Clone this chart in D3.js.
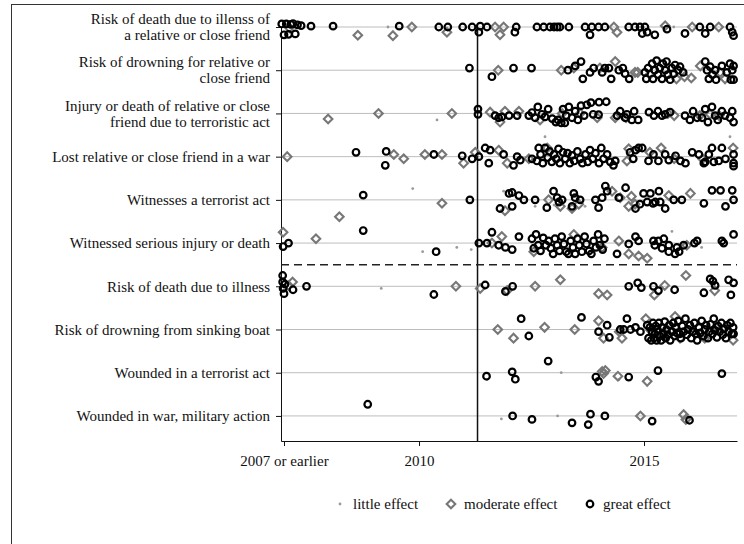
<!DOCTYPE html>
<html>
<head>
<meta charset="utf-8">
<script src="https://cdn.jsdelivr.net/npm/d3@7"></script>
<style>
  body { margin: 0; background: #fff; }
  text { font-family: "Liberation Serif", "Times New Roman", serif; fill: #111; }
</style>
</head>
<body>
<svg id="chart" width="744" height="544"></svg>
<script>
// category labels, top to bottom (row 1..10)
const categories = [
  ["Risk of death due to illenss of", "a relative or close friend"],
  ["Risk of drowning for relative or", "close friend"],
  ["Injury or death of relative or close", "friend due to terroristic act"],
  ["Lost relative or close friend in a war"],
  ["Witnesses a terrorist act"],
  ["Witnessed serious injury or death"],
  ["Risk of death due to illness"],
  ["Risk of drowning from sinking boat"],
  ["Wounded in a terrorist act"],
  ["Wounded in war, military action"]
];
const effects = ["little effect", "moderate effect", "great effect"];
const xTicks = [2007, 2010, 2015];
const xTickLabels = ["2007 or earlier", "2010", "2015"];
const markerYear = 2011.3;

// each point: [year, jitter (in rows), effect index]
const row1 = [[2006.95,-.07,2],[2007.0,.18,2],[2007.05,-.07,2],[2007.1,.17,2],[2007.15,-.06,2],[2007.2,-.08,2],[2007.25,.16,2],[2007.3,-.05,2],[2007.12,.02,1],[2007.38,-.03,2],[2007.6,-.02,2],[2008.09,-.02,2],[2008.64,.19,1],[2009.31,0,0],[2009.42,.2,1],[2009.56,-.02,2],[2009.84,0,1],[2010.44,0,2],[2010.64,0,2],[2010.62,.12,1],[2010.97,0,2],[2011.18,0,2],[2011.36,-.02,2],[2011.51,0,2],[2011.33,.12,2],[2011.69,0,1],[2011.8,.18,1],[2011.88,0,1],[2012.16,0,2],[2012.13,.12,2],[2012.62,0,2],[2012.77,0,2],[2012.91,0,2],[2013.0,0,2],[2013.07,0,2],[2013.13,0,2],[2013.33,0,2],[2013.69,0,2],[2013.8,.18,2],[2013.84,0,2],[2013.99,0,2],[2014.13,0,2],[2014.33,0,1],[2014.4,.12,1],[2014.66,0,2],[2014.8,0,2],[2014.91,0,2],[2015.02,0,2],[2015.07,.12,2],[2014.96,.15,2],[2015.24,.18,2],[2015.47,-.03,1],[2015.51,.05,2],[2015.66,0,0],[2015.91,.15,2],[2016.07,0,1],[2016.24,0,2],[2016.36,.15,2],[2016.47,0,2],[2016.66,0,1],[2016.91,0,2],[2016.96,.12,2],[2016.99,.2,2]];
const row2 = [[2011.12,-.05,2],[2011.76,0,1],[2011.62,.15,2],[2012.1,-.05,2],[2012.5,-.05,2],[2013.16,0,1],[2013.31,0,2],[2013.47,-.1,2],[2013.6,-.2,2],[2013.44,-.05,1],[2013.64,.2,2],[2013.8,.05,2],[2013.88,-.05,2],[2014.02,-.05,1],[2014.07,.05,2],[2014.13,-.05,2],[2014.27,.2,2],[2014.22,-.05,2],[2014.36,-.2,1],[2014.44,0,2],[2014.53,-.05,2],[2014.58,.08,2],[2014.67,.2,2],[2014.8,.05,1],[2014.86,.05,1],[2015.02,.05,2],[2015.05,.2,2],[2015.09,-.05,2],[2015.13,.1,1],[2015.18,-.15,2],[2015.2,.2,2],[2015.24,0,2],[2015.28,-.22,2],[2015.31,.1,2],[2015.35,-.05,2],[2015.4,.2,2],[2015.42,-.15,2],[2015.45,.05,0],[2015.47,0,2],[2015.5,-.2,2],[2015.53,.1,2],[2015.58,.22,2],[2015.62,-.05,2],[2015.66,.08,2],[2015.69,-.12,2],[2015.72,.2,1],[2015.76,0,2],[2015.8,-.08,2],[2015.87,.05,2],[2015.9,.15,1],[2016.05,.18,1],[2016.25,-.1,1],[2016.36,-.2,2],[2016.4,0,2],[2016.44,.2,2],[2016.47,-.08,2],[2016.52,.1,2],[2016.58,0,2],[2016.6,.22,2],[2016.69,.05,1],[2016.73,-.1,2],[2016.8,.2,1],[2016.84,.05,2],[2016.91,-.15,2],[2016.93,.22,2],[2016.96,0,2],[2016.99,.22,2],[2016.99,-.1,2]];
const row3 = [[2007.98,.13,1],[2009.1,0,1],[2010.4,.15,0],[2010.73,0,1],[2011.31,-.1,2],[2011.31,.02,2],[2011.58,-.03,1],[2011.69,.05,2],[2011.77,.1,2],[2011.84,.08,2],[2011.8,.2,1],[2011.91,-.05,1],[2012.22,-.05,1],[2012.0,.05,2],[2012.18,.05,2],[2012.44,.05,2],[2012.51,-.02,2],[2012.58,.1,2],[2012.64,-.15,2],[2012.69,.15,1],[2012.73,.02,2],[2012.8,.08,2],[2012.87,-.1,2],[2012.96,.12,2],[2013.04,.2,2],[2013.09,.15,2],[2013.16,.22,2],[2013.18,0,1],[2013.2,-.1,2],[2013.24,.22,2],[2013.27,.05,2],[2013.33,-.15,2],[2013.4,.1,2],[2013.47,-.05,2],[2013.53,.15,2],[2013.58,0,1],[2013.6,-.18,2],[2013.67,.05,2],[2013.73,-.2,2],[2013.82,-.25,2],[2013.87,.02,2],[2013.96,.1,1],[2013.99,.03,2],[2014.0,-.26,2],[2014.16,-.27,2],[2014.36,.1,1],[2014.4,.05,2],[2014.47,-.05,2],[2014.58,.1,2],[2014.6,.1,1],[2014.62,.02,2],[2014.73,.15,2],[2014.78,-.05,2],[2014.87,.15,2],[2015.11,-.03,2],[2015.22,.05,2],[2015.31,-.05,2],[2015.4,.05,2],[2015.47,.02,2],[2015.53,0,1],[2015.58,-.03,2],[2015.67,.05,1],[2015.91,.05,2],[2016.02,.15,2],[2016.09,-.05,2],[2016.18,.1,2],[2016.24,.05,1],[2016.29,.1,2],[2016.36,-.1,2],[2016.42,.2,2],[2016.47,.02,1],[2016.51,-.15,2],[2016.58,.05,2],[2016.64,.15,2],[2016.67,.05,1],[2016.73,-.05,2],[2016.8,.05,2],[2016.91,.1,2],[2016.96,-.05,2],[2016.99,.2,2]];
const row4 = [[2007.07,0,1],[2008.6,-.1,2],[2009.27,-.12,2],[2009.25,.2,2],[2009.44,-.05,1],[2009.66,.05,1],[2010.13,-.05,1],[2010.33,-.05,2],[2010.51,-.05,1],[2010.96,-.02,2],[2010.99,.15,1],[2011.18,.05,2],[2011.25,-.1,1],[2011.33,0,2],[2011.47,-.2,2],[2011.58,-.15,2],[2011.55,.15,2],[2011.77,-.15,1],[2011.88,-.05,2],[2011.96,.15,1],[2012.1,.2,2],[2012.18,0,2],[2012.25,.08,2],[2012.44,.05,1],[2012.51,.05,2],[2012.66,-.2,2],[2012.8,-.2,2],[2012.62,.1,2],[2012.7,-.05,2],[2012.75,.15,2],[2012.85,-.2,1],[2012.86,.02,2],[2012.9,-.12,2],[2012.95,.12,2],[2013.0,-.05,2],[2013.05,.05,2],[2013.1,-.18,2],[2013.13,.15,2],[2013.2,-.1,2],[2013.25,.05,2],[2013.3,-.08,2],[2013.35,.15,2],[2013.4,-.03,2],[2013.45,.1,2],[2013.52,-.12,2],[2013.58,.05,2],[2013.63,.15,2],[2013.7,-.05,2],[2013.75,.12,2],[2013.8,-.15,2],[2013.86,.05,2],[2013.92,-.08,2],[2014.0,.15,2],[2014.05,-.2,2],[2014.1,.05,2],[2014.18,-.05,2],[2014.25,.12,2],[2014.32,.2,2],[2014.36,.1,2],[2014.62,.1,1],[2014.66,-.18,1],[2014.69,-.1,2],[2014.76,.05,2],[2014.81,-.15,2],[2014.88,-.2,2],[2014.96,-.2,2],[2015.1,.1,2],[2015.13,-.1,1],[2015.21,-.05,2],[2015.32,.1,2],[2015.38,-.2,1],[2015.47,-.05,2],[2015.55,.08,2],[2015.67,.05,1],[2015.7,-.02,2],[2015.81,.1,2],[2015.92,.15,2],[2016.07,-.1,2],[2016.22,-.05,2],[2016.3,.05,1],[2016.33,.15,2],[2016.36,.12,2],[2016.44,-.05,2],[2016.51,-.2,2],[2016.55,.12,2],[2016.66,.1,2],[2016.73,-.2,2],[2016.81,.05,2],[2016.98,-.2,1],[2016.99,-.05,2],[2016.99,.15,2],[2016.99,.22,2],[2012.8,-.46,0],[2016.91,-.46,0]];
const row5 = [[2008.23,.39,1],[2008.76,-.11,2],[2009.86,-.26,0],[2010.51,.08,1],[2011.13,0,2],[2011.8,.2,2],[2011.91,.25,1],[2011.88,-.2,0],[2012.0,-.15,2],[2012.07,-.17,2],[2012.22,-.1,2],[2012.07,.15,2],[2012.33,0,2],[2012.58,0,2],[2012.58,.15,0],[2012.88,0,1],[2012.84,.18,2],[2012.99,-.2,2],[2013.0,.12,0],[2013.07,-.05,2],[2013.18,0,2],[2013.14,.15,1],[2013.11,.05,2],[2013.44,-.15,2],[2013.47,-.05,2],[2013.4,.15,2],[2013.4,.2,1],[2013.55,.1,1],[2013.58,0,2],[2013.69,.15,0],[2013.99,.18,2],[2013.92,0,2],[2014.07,-.05,2],[2014.14,-.32,2],[2014.18,-.2,2],[2014.29,-.2,1],[2014.47,-.05,1],[2014.44,-.05,2],[2014.59,-.28,2],[2014.66,.15,1],[2014.72,-.08,1],[2014.8,.1,1],[2014.81,.2,2],[2014.91,.1,2],[2014.99,-.15,2],[2015.07,.05,2],[2015.14,-.15,2],[2015.2,.08,2],[2015.25,.05,2],[2015.33,-.2,2],[2015.36,.05,2],[2015.47,.2,2],[2015.55,-.1,1],[2015.66,0,2],[2015.84,0,2],[2016.03,-.15,1],[2016.33,.08,2],[2016.51,-.22,2],[2016.7,-.22,2],[2016.96,-.22,2],[2016.81,.15,2],[2016.99,0,2]];
const row6 = [[2006.98,-.25,1],[2007.1,0,2],[2006.98,.08,2],[2007.71,-.1,1],[2008.76,-.29,2],[2010.08,.2,0],[2010.38,.2,2],[2010.84,.1,0],[2011.16,.15,0],[2011.33,0,2],[2011.51,0,2],[2011.62,-.25,2],[2011.62,0,1],[2011.77,.05,2],[2011.92,.1,2],[2011.84,-.15,1],[2012.07,.15,2],[2012.22,-.15,2],[2012.51,-.1,2],[2012.55,.12,2],[2012.55,.2,1],[2012.6,-.2,2],[2012.65,.05,2],[2012.7,.18,2],[2012.76,-.12,2],[2012.82,.05,2],[2012.88,-.05,2],[2012.93,.12,2],[2012.98,.25,2],[2013.02,-.1,2],[2013.07,.05,2],[2013.12,.18,2],[2013.17,-.15,2],[2013.22,.02,2],[2013.27,.2,2],[2013.32,.25,2],[2013.37,-.05,2],[2013.42,.1,2],[2013.44,-.2,1],[2013.47,.25,2],[2013.52,-.1,2],[2013.56,.05,2],[2013.62,.2,2],[2013.68,-.15,2],[2013.72,.02,2],[2013.78,.18,2],[2013.83,.25,2],[2013.88,-.05,2],[2013.93,.1,2],[2013.98,-.2,2],[2014.02,.05,2],[2014.07,.1,1],[2014.08,.15,2],[2014.12,-.1,2],[2014.4,.25,2],[2014.44,-.05,1],[2014.66,.25,1],[2014.66,.02,2],[2014.81,-.15,2],[2014.88,.3,1],[2014.88,-.05,2],[2015.07,.35,1],[2015.21,-.05,2],[2015.24,.05,2],[2015.32,-.05,2],[2015.4,.12,2],[2015.44,-.1,2],[2015.55,.05,2],[2015.55,.2,2],[2015.62,-.27,0],[2015.69,.25,2],[2015.73,.1,2],[2015.78,.2,2],[2015.88,.05,2],[2015.95,.05,1],[2016.12,0,2],[2016.18,-.05,2],[2016.28,.1,0],[2016.73,-.05,2],[2016.77,0,2],[2016.99,-.2,2]];
const row7 = [[2006.97,-.25,2],[2006.97,-.1,2],[2006.98,.05,2],[2007.0,.17,2],[2007.02,-.05,2],[2007.1,-.02,1],[2007.19,-.1,1],[2007.2,.08,2],[2007.5,0,2],[2009.16,.05,0],[2010.33,.19,2],[2010.82,0,1],[2011.36,.05,1],[2011.47,-.03,2],[2011.96,.1,1],[2011.92,.12,2],[2012.08,0,2],[2012.58,0,1],[2013.14,-.15,1],[2013.99,.17,1],[2014.18,.2,1],[2014.66,0,2],[2014.86,-.08,2],[2014.94,.03,2],[2015.21,0,2],[2015.32,.1,2],[2015.23,.2,1],[2015.46,-.02,1],[2015.68,.08,2],[2015.93,-.25,1],[2016.33,.15,2],[2016.47,-.17,2],[2016.58,-.02,2],[2016.53,-.12,2],[2016.57,.1,1],[2016.88,-.15,2],[2016.99,-.08,2],[2016.93,.2,2]];
const row8 = [[2011.75,0,1],[2012.27,-.25,2],[2012.1,.2,1],[2012.44,.15,2],[2012.79,-.05,1],[2013.46,0,1],[2013.61,-.28,2],[2013.99,-.2,1],[2014.1,.2,1],[2013.99,.05,2],[2014.18,-.1,2],[2014.23,.18,2],[2014.45,.05,1],[2014.51,.2,1],[2014.47,0,2],[2014.55,0,2],[2014.62,-.25,2],[2014.7,0,2],[2014.81,-.05,2],[2014.92,.05,2],[2015.04,-.25,1],[2015.07,-.1,2],[2015.1,.2,2],[2015.13,-.05,2],[2015.15,.02,1],[2015.16,.25,2],[2015.18,.05,2],[2015.2,-.15,2],[2015.22,.2,2],[2015.24,.1,2],[2015.26,-.08,2],[2015.28,.25,2],[2015.3,0,2],[2015.3,.1,0],[2015.33,-.15,2],[2015.35,.15,2],[2015.38,.25,2],[2015.4,-.05,2],[2015.43,.1,2],[2015.45,.15,1],[2015.46,-.18,2],[2015.48,.2,2],[2015.5,0,2],[2015.53,.12,2],[2015.56,-.1,2],[2015.58,.25,2],[2015.62,.05,2],[2015.65,-.15,2],[2015.68,.15,2],[2015.69,-.3,1],[2015.7,-.05,2],[2015.73,.08,2],[2015.76,-.2,2],[2015.79,.1,2],[2015.8,.2,1],[2015.82,.2,2],[2015.85,-.08,2],[2015.88,.05,2],[2015.92,-.25,2],[2015.95,.12,2],[2015.98,0,2],[2016.0,.05,0],[2016.02,-.1,2],[2016.05,.2,2],[2016.08,.05,2],[2016.1,.05,1],[2016.12,-.15,2],[2016.15,.1,2],[2016.18,.25,2],[2016.22,-.05,2],[2016.25,.08,2],[2016.28,-.2,2],[2016.32,.15,2],[2016.35,0,2],[2016.35,.2,1],[2016.38,-.1,2],[2016.42,.2,2],[2016.45,.05,2],[2016.48,-.12,2],[2016.52,.1,2],[2016.55,-.25,2],[2016.58,.02,2],[2016.6,-.05,1],[2016.62,.18,2],[2016.65,-.08,2],[2016.68,.05,2],[2016.72,-.15,2],[2016.75,.12,2],[2016.78,-.02,2],[2016.82,.2,2],[2016.85,-.1,2],[2016.88,.05,2],[2016.92,-.15,2],[2016.95,.1,2],[2016.98,.25,1],[2016.98,-.05,2],[2016.99,.1,2]];
const row9 = [[2011.5,.08,2],[2011.51,.16,0],[2012.07,-.02,2],[2012.14,.15,2],[2012.87,-.27,2],[2013.16,0,0],[2013.93,.1,2],[2013.99,.2,2],[2014.07,-.03,1],[2014.14,-.05,1],[2014.1,.02,1],[2014.42,.08,1],[2014.44,.16,0],[2014.66,.1,2],[2015.07,.2,1],[2015.31,-.05,2],[2016.73,.02,2]];
const row10 = [[2008.86,-.27,2],[2011.83,.07,0],[2012.08,0,2],[2012.51,.08,2],[2013.08,0,0],[2013.4,.16,2],[2013.76,.2,2],[2013.81,-.04,2],[2014.13,0,2],[2014.92,0,1],[2015.18,.12,2],[2015.88,-.03,1],[2015.93,.08,1],[2016.01,.1,2]];

const rows = [row1, row2, row3, row4, row5, row6, row7, row8, row9, row10];

const svg = d3.select("#chart");
const fontSize = 15;

// outer frame (only top and left edges fall inside the picture)
svg.append("rect")
  .attr("x", 11.5).attr("y", 4.5)
  .attr("width", 800).attr("height", 600)
  .attr("fill", "none").attr("stroke", "#333").attr("stroke-width", 1);

const x = d3.scaleLinear().domain([2006.933, 2017.066]).range([281, 737]);
const y = d3.scaleLinear().domain([1, 10.58]).range([27, 441]);

// gridlines
svg.append("g").selectAll("line")
  .data(d3.range(1, 11))
  .join("line")
  .attr("x1", x.range()[0]).attr("x2", x.range()[1])
  .attr("y1", d => y(d)).attr("y2", d => y(d))
  .attr("stroke", "#bdbdbd").attr("stroke-width", 1);

// left axis
const yAxis = svg.append("g")
  .attr("transform", `translate(${x.range()[0]},0)`)
  .call(d3.axisLeft(y).tickValues(d3.range(1, 11)).tickSize(5).tickSizeOuter(0).tickFormat(""));
yAxis.selectAll("path, line").attr("stroke", "#111");

// category labels
svg.append("g").selectAll("text")
  .data(categories)
  .join("text")
  .attr("text-anchor", "end")
  .attr("font-size", fontSize)
  .each(function (lines, i) {
    const t = d3.select(this);
    const cy = y(i + 1);
    lines.forEach((s, j) => {
      const off = lines.length === 1 ? 0 : (j === 0 ? -8 : 8);
      t.append("tspan")
        .attr("x", 270)
        .attr("y", cy + off)
        .attr("dy", "0.35em")
        .text(s);
    });
  });

// bottom axis
const xAxis = svg.append("g")
  .attr("transform", `translate(0,${y.range()[1]})`)
  .call(d3.axisBottom(x).tickValues(xTicks).tickSize(5).tickSizeOuter(0)
    .tickFormat((d, i) => xTickLabels[i]));
xAxis.selectAll("path, line").attr("stroke", "#111");
xAxis.selectAll("text")
  .attr("font-size", fontSize)
  .attr("font-family", '"Liberation Serif", serif')
  .attr("fill", "#111")
  .attr("dy", "1.1em");

// reference lines
svg.append("line")
  .attr("x1", x(markerYear)).attr("x2", x(markerYear))
  .attr("y1", y(1)).attr("y2", y.range()[1])
  .attr("stroke", "#111").attr("stroke-width", 1.5);
svg.append("line")
  .attr("x1", x.range()[0]).attr("x2", x.range()[1])
  .attr("y1", y(6.5)).attr("y2", y(6.5))
  .attr("stroke", "#222").attr("stroke-width", 1.5)
  .attr("stroke-dasharray", "8,5");

// marks
const points = rows.flatMap((r, i) => r.map(p => ({ year: p[0], pos: i + 1 + p[1], effect: p[2] })));
const diamond = "M0,-4.3L4.3,0L0,4.3L-4.3,0Z";

svg.append("g").selectAll("circle")
  .data(points.filter(d => d.effect === 0))
  .join("circle")
  .attr("cx", d => x(d.year)).attr("cy", d => y(d.pos))
  .attr("r", 1.4).attr("fill", "#9a9a9a");

svg.append("g").selectAll("path")
  .data(points.filter(d => d.effect === 1))
  .join("path")
  .attr("transform", d => `translate(${x(d.year)},${y(d.pos)})`)
  .attr("d", diamond)
  .attr("fill", "none").attr("stroke", "#777").attr("stroke-width", 2.1);

svg.append("g").selectAll("circle")
  .data(points.filter(d => d.effect === 2))
  .join("circle")
  .attr("cx", d => x(d.year)).attr("cy", d => y(d.pos))
  .attr("r", 3.3).attr("fill", "none").attr("stroke", "#000").attr("stroke-width", 2.2);

// legend
const legendX = [340, 451, 590];
const lg = svg.append("g").selectAll("g")
  .data(effects)
  .join("g")
  .attr("transform", (d, i) => `translate(${legendX[i]},504)`);
lg.filter((d, i) => i === 0).append("circle").attr("r", 1.4).attr("fill", "#9a9a9a");
lg.filter((d, i) => i === 1).append("path").attr("d", diamond)
  .attr("fill", "none").attr("stroke", "#777").attr("stroke-width", 2.1);
lg.filter((d, i) => i === 2).append("circle").attr("r", 3.3)
  .attr("fill", "none").attr("stroke", "#000").attr("stroke-width", 2.2);
lg.append("text")
  .attr("x", 13).attr("dy", "0.35em")
  .attr("font-size", fontSize)
  .text(d => d);
</script>
</body>
</html>
